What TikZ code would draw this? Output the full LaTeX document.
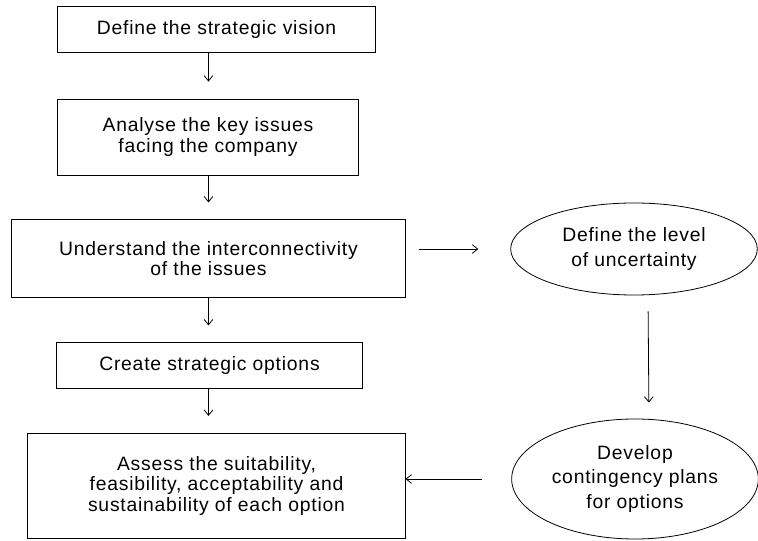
\documentclass[tikz,border=0pt]{standalone}
\usepackage{fontspec}
\setmainfont[LetterSpace=4]{Liberation Sans}
\usetikzlibrary{shapes.geometric,arrows.meta}
\begin{document}
\begin{tikzpicture}
[
    x=0.75pt, y=-0.75pt,
    every node/.style={font=\fontsize{14.5}{15.5}\selectfont, align=center, inner sep=0pt},
    stepbox/.style={draw, rectangle, line width=0.6pt},
    oval/.style={draw, ellipse, line width=0.6pt, minimum width=185pt, font=\fontsize{14.5}{18.5}\selectfont},
    link/.style={-{Straight Barb[length=4pt,width=6.5pt]}, line width=0.6pt, shorten >=12.75pt},
]
\useasboundingbox (0,0) rectangle (758,541);
% main column
\node[stepbox, minimum width=239pt, minimum height=35pt] (vision) at (216.5,29.5) {Define the strategic vision};
\node[stepbox, minimum width=226pt, minimum height=57pt] (issues) at (208,137) {Analyse the key issues\\facing the company};
\node[stepbox, minimum width=295pt, minimum height=58pt] (links) at (208.5,258.5) {Understand the interconnectivity\\of the issues};
\node[stepbox, minimum width=229pt, minimum height=34pt] (options) at (209.5,365.5) {Create strategic options};
\node[stepbox, minimum width=283pt, minimum height=79pt] (assess) at (216.5,486) {Assess the suitability,\\feasibility, acceptability and\\sustainability of each option};
% side column
\node[oval, minimum height=69pt] (level) at (634,249) {Define the level\\of uncertainty};
\node[oval, minimum height=90pt] (plans) at (635,479) {Develop\\contingency plans\\for options};

\draw[link] (vision.south -| links) -- (issues.north -| links);
\draw[link] (issues.south -| links) -- (links.north);
\draw[link] (links.south) -- (options.north -| links);
\draw[link] (options.south -| links) -- (assess.north -| links);
\draw[link, shorten <=10pt, shorten >=24pt] (links.east |- level) -- (level.west);
\draw[link, shorten <=12pt, shorten >=12pt] ([xshift=10.5pt]level.south) -- ([xshift=10.5pt]plans.north);
\draw[link, shorten <=22pt, shorten >=0pt] (plans.west) -- (assess.east |- plans);
\end{tikzpicture}
\end{document}
